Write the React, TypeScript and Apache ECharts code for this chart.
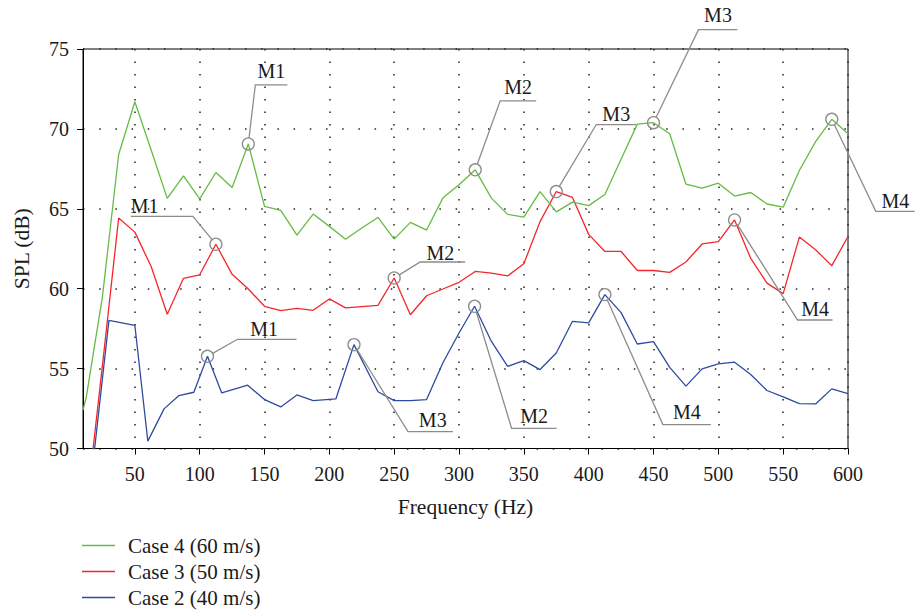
import React, { useEffect, useRef } from "react";
import * as echarts from "echarts";

const FONT = "Liberation Serif";

// Axis ticks
const freqTicks = [50, 100, 150, 200, 250, 300, 350, 400, 450, 500, 550, 600];

// Case 4 (60 m/s)
const case4Freq = [10, 12.5, 25, 37.5, 50, 62.5, 75, 87.5, 100, 112.5, 125, 137.5, 150, 162.5, 175, 187.5, 200, 212.5, 225, 237.5, 250, 262.5, 275, 287.5, 300, 312.5, 325, 337.5, 350, 362.5, 375, 387.5, 400, 412.5, 425, 437.5, 450, 462.5, 475, 487.5, 500, 512.5, 525, 537.5, 550, 562.5, 575, 587.5, 600];
const case4Spl = [52.4, 53.2, 59.5, 68.4, 71.7, 68.7, 65.65, 67.06, 65.62, 67.27, 66.33, 69.06, 65.15, 64.9, 63.35, 64.67, 63.9, 63.1, 63.8, 64.46, 63.1, 64.15, 63.67, 65.67, 66.5, 67.44, 65.67, 64.65, 64.48, 66.08, 64.81, 65.42, 65.2, 65.9, 68.1, 70.3, 70.39, 69.7, 66.54, 66.29, 66.6, 65.8, 66.02, 65.3, 65.1, 67.4, 69.2, 70.6, 69.7];

// Case 3 (50 m/s)
const case3Freq = [12.5, 25, 37.5, 50, 62.5, 75, 87.5, 100, 112.5, 125, 137.5, 150, 162.5, 175, 187.5, 200, 212.5, 225, 237.5, 250, 262.5, 275, 287.5, 300, 312.5, 325, 337.5, 350, 362.5, 375, 387.5, 400, 412.5, 425, 437.5, 450, 462.5, 475, 487.5, 500, 512.5, 525, 537.5, 550, 562.5, 575, 587.5, 600];
const case3Spl = [46.2, 55.2, 64.42, 63.54, 61.4, 58.4, 60.65, 60.87, 62.78, 60.9, 59.98, 58.9, 58.63, 58.77, 58.65, 59.36, 58.8, 58.88, 58.96, 60.67, 58.37, 59.56, 59.98, 60.4, 61.08, 60.98, 60.8, 61.56, 64.2, 66.08, 65.71, 63.4, 62.33, 62.33, 61.14, 61.14, 61.02, 61.67, 62.8, 62.94, 64.3, 61.9, 60.35, 59.69, 63.23, 62.44, 61.44, 63.27];

// Case 2 (40 m/s)
const case2Freq = [12.5, 30, 50, 60, 72.5, 84, 95.5, 106, 117, 137, 150, 162.5, 175, 187.5, 205, 219, 237.5, 250, 262.5, 275, 287.5, 300, 312, 325, 337.5, 350, 362.5, 375, 387.5, 400, 412.5, 425, 437.5, 450, 462.5, 475, 487.5, 500, 512.5, 525, 537.5, 550, 562.5, 575, 587.5, 600];
const case2Spl = [45.3, 58.02, 57.7, 50.46, 52.48, 53.31, 53.52, 55.77, 53.48, 53.96, 53.06, 52.6, 53.35, 53.0, 53.1, 56.5, 53.55, 53.0, 53.0, 53.06, 55.35, 57.23, 58.9, 56.7, 55.14, 55.5, 54.94, 55.98, 57.96, 57.86, 59.63, 58.5, 56.54, 56.69, 55.08, 53.9, 54.98, 55.29, 55.4, 54.63, 53.63, 53.23, 52.81, 52.79, 53.73, 53.44];

const seriesNames = ["Case 4 (60 m/s)", "Case 3 (50 m/s)", "Case 2 (40 m/s)"];
const seriesColors = ["#66bb44", "#f5262b", "#2c4c9f"];

// Peak callouts: series index, marked frequency, label, elbow offset (dx, dy) from the
// marked point, horizontal run of the leader, label position along the run, label rise.
const callouts = [
  { s: 0, f: 137.5, text: "M1", dx: 7, dy: -59, run: 32, at: 0.5, ly: -14 },
  { s: 0, f: 312.5, text: "M2", dx: 25, dy: -69, run: 36, at: 0.5, ly: -13.5 },
  { s: 0, f: 450, text: "M3", dx: 45, dy: -93, run: 39, at: 0.5, ly: -15 },
  { s: 0, f: 587.5, text: "M4", dx: 44, dy: 92, run: 39, at: 0.5, ly: -10 },
  { s: 1, f: 112.5, text: "M1", dx: -23, dy: -28, run: -62, at: 0.78, ly: -10 },
  { s: 1, f: 250, text: "M2", dx: 26, dy: -16, run: 45, at: 0.45, ly: -9 },
  { s: 1, f: 375, text: "M3", dx: 40, dy: -67, run: 40, at: 0.5, ly: -11 },
  { s: 1, f: 512.5, text: "M4", dx: 63, dy: 100, run: 35, at: 0.5, ly: -11 },
  { s: 2, f: 106, text: "M1", dx: 30, dy: -17, run: 59, at: 0.45, ly: -10.5 },
  { s: 2, f: 219, text: "M3", dx: 54, dy: 87, run: 45, at: 0.55, ly: -11.5 },
  { s: 2, f: 312, text: "M2", dx: 37, dy: 122, run: 45, at: 0.5, ly: -12 },
  { s: 2, f: 412.5, text: "M4", dx: 58, dy: 130, run: 48, at: 0.5, ly: -12.5 },
];

const GREY = "#8c8c8c";
const INK = "#1a1a1a";
const TICK_SIZE = 20;
const NAME_SIZE = 21.5;

export default function App() {
  const ref = useRef<HTMLDivElement>(null);

  useEffect(() => {
    if (!ref.current) return;
    const chart = echarts.init(ref.current, null, { renderer: "svg" });

    const freqs = [case4Freq, case3Freq, case2Freq];
    const spls = [case4Spl, case3Spl, case2Spl];

    chart.setOption({
      animation: false,
      textStyle: { fontFamily: FONT, fontSize: TICK_SIZE },
      grid: {
        left: 83,
        right: 67,
        top: 49,
        bottom: 161.5,
        show: true,
        borderColor: "#000",
        borderWidth: 1,
        containLabel: false,
      },
      legend: {
        orient: "vertical",
        left: 82,
        top: 535,
        padding: 0,
        icon: "rect",
        itemWidth: 33,
        itemHeight: 1.4,
        itemGap: 5,
        data: seriesNames,
        textStyle: {
          fontFamily: FONT,
          fontSize: 21,
          color: INK,
          padding: [0, 0, 0, 8],
        },
      },
      xAxis: {
        type: "value",
        min: 10,
        max: 600,
        name: "Frequency (Hz)",
        nameLocation: "middle",
        nameGap: 47,
        nameMoveOverlap: false,
        nameTextStyle: { fontFamily: FONT, fontSize: NAME_SIZE, color: INK },
        axisLine: { lineStyle: { color: "#000", width: 1 } },
        axisTick: {
          customValues: freqTicks,
          length: 6,
          lineStyle: { color: "#000", width: 1 },
        },
        axisLabel: {
          customValues: freqTicks,
          margin: 15,
          fontFamily: FONT,
          fontSize: TICK_SIZE,
          color: INK,
        },
        splitLine: {
          show: true,
          lineStyle: { color: "#222", width: 1.5, type: [1.5, 11] },
        },
      },
      yAxis: {
        type: "value",
        min: 50,
        max: 75,
        interval: 5,
        name: "SPL (dB)",
        nameLocation: "middle",
        nameGap: 50,
        nameMoveOverlap: false,
        nameTextStyle: { fontFamily: FONT, fontSize: NAME_SIZE, color: INK },
        axisLine: { lineStyle: { color: "#000", width: 1 } },
        axisTick: { length: 6, lineStyle: { color: "#000", width: 1 } },
        axisLabel: { margin: 14, fontFamily: FONT, fontSize: TICK_SIZE, color: INK },
        splitLine: {
          show: true,
          lineStyle: { color: "#222", width: 1.5, type: [1.5, 14.7] },
        },
      },
      series: seriesNames.map((name, i) => ({
        name,
        type: "line",
        data: freqs[i].map((f, k) => [f, spls[i][k]]),
        showSymbol: false,
        symbol: "none",
        clip: true,
        lineStyle: { color: seriesColors[i], width: 1.3 },
        itemStyle: { color: seriesColors[i] },
        emphasis: { disabled: true },
        z: 3 - i,
      })),
    });

    // Callout circles, leaders and labels anchored on the marked data points
    const R = 6;
    const graphics: any[] = [];
    callouts.forEach((c) => {
      const k = freqs[c.s].indexOf(c.f);
      if (k < 0) return;
      const p = chart.convertToPixel({ gridIndex: 0 }, [freqs[c.s][k], spls[c.s][k]]) as number[];
      const [cx, cy] = p;
      const ex = cx + c.dx;
      const ey = cy + c.dy;
      const len = Math.hypot(c.dx, c.dy);
      const sx = cx + (c.dx / len) * R;
      const sy = cy + (c.dy / len) * R;
      graphics.push({
        type: "circle",
        shape: { cx, cy, r: R },
        style: { fill: "none", stroke: GREY, lineWidth: 1.3 },
        z: 10,
      });
      graphics.push({
        type: "polyline",
        shape: { points: [[sx, sy], [ex, ey], [ex + c.run, ey]] },
        style: { fill: "none", stroke: GREY, lineWidth: 1.3 },
        z: 10,
      });
      graphics.push({
        type: "text",
        x: ex + c.run * c.at,
        y: ey + c.ly,
        style: {
          text: c.text,
          fontFamily: FONT,
          fontSize: TICK_SIZE,
          fill: INK,
          align: "center",
          verticalAlign: "middle",
        },
        z: 11,
      });
    });
    chart.setOption({ graphic: graphics });

    return () => chart.dispose();
  }, []);

  return (
    <div
      ref={ref}
      style={{ position: "absolute", left: 0, top: 0, width: 915, height: 610 }}
    />
  );
}
